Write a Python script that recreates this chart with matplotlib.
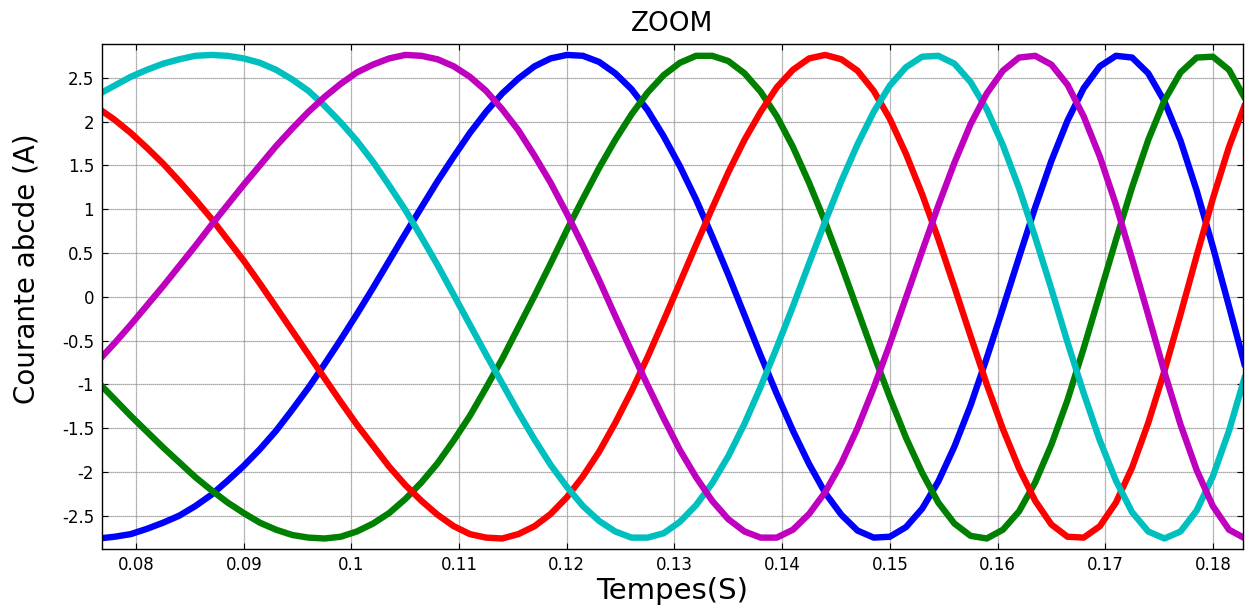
import numpy as np
import matplotlib
matplotlib.use('Agg')
import matplotlib.pyplot as plt

# temps (s), pas d'echantillonnage 1.5 ms
t = np.linspace(0.0765, 0.1830, 72)

# courants des cinq phases (A)
ia = [-2.76, -2.74, -2.71, -2.65, -2.58, -2.50, -2.39, -2.26, -2.10, -1.93, -1.74, -1.53, -1.29, -1.04, -0.77, -0.49, -0.20, 0.10,
      0.41, 0.72, 1.02, 1.32, 1.60, 1.87, 2.11, 2.32, 2.49, 2.63, 2.72, 2.76, 2.75, 2.68, 2.55, 2.37, 2.13, 1.83,
      1.49, 1.11, 0.69, 0.25, -0.21, -0.67, -1.11, -1.53, -1.91, -2.24, -2.49, -2.67, -2.75, -2.74, -2.63, -2.42, -2.11, -1.71,
      -1.24, -0.70, -0.13, 0.45, 1.02, 1.55, 2.01, 2.38, 2.63, 2.75, 2.73, 2.55, 2.23, 1.78, 1.21, 0.57, -0.11, -0.80]
ib = [-0.98, -1.17, -1.36, -1.54, -1.72, -1.89, -2.06, -2.21, -2.35, -2.47, -2.58, -2.66, -2.72, -2.75, -2.76, -2.74, -2.68, -2.59,
      -2.47, -2.31, -2.12, -1.90, -1.64, -1.36, -1.04, -0.71, -0.35, 0.01, 0.38, 0.76, 1.12, 1.47, 1.79, 2.08, 2.33, 2.53,
      2.67, 2.75, 2.75, 2.69, 2.55, 2.34, 2.06, 1.71, 1.30, 0.85, 0.36, -0.15, -0.66, -1.15, -1.61, -2.01, -2.35, -2.59,
      -2.73, -2.76, -2.66, -2.45, -2.12, -1.69, -1.18, -0.59, 0.03, 0.65, 1.25, 1.79, 2.24, 2.56, 2.73, 2.74, 2.59, 2.26]
ic = [2.15, 2.02, 1.87, 1.70, 1.52, 1.32, 1.11, 0.89, 0.65, 0.41, 0.15, -0.12, -0.39, -0.66, -0.93, -1.20, -1.46, -1.70,
      -1.94, -2.15, -2.33, -2.49, -2.62, -2.71, -2.75, -2.76, -2.71, -2.62, -2.48, -2.29, -2.05, -1.77, -1.44, -1.08, -0.69, -0.27,
      0.16, 0.59, 1.01, 1.42, 1.79, 2.11, 2.39, 2.59, 2.72, 2.76, 2.71, 2.58, 2.35, 2.03, 1.63, 1.17, 0.66, 0.11,
      -0.45, -1.00, -1.51, -1.96, -2.33, -2.60, -2.74, -2.75, -2.62, -2.35, -1.95, -1.44, -0.85, -0.20, 0.47, 1.12, 1.71, 2.20]
id_ = [2.31, 2.41, 2.51, 2.59, 2.66, 2.71, 2.75, 2.76, 2.75, 2.72, 2.67, 2.59, 2.48, 2.35, 2.18, 1.99, 1.78, 1.54,
       1.27, 0.99, 0.68, 0.36, 0.02, -0.32, -0.66, -0.99, -1.32, -1.63, -1.92, -2.17, -2.39, -2.56, -2.68, -2.75, -2.75, -2.70,
       -2.57, -2.38, -2.13, -1.82, -1.45, -1.03, -0.58, -0.11, 0.38, 0.86, 1.32, 1.74, 2.11, 2.41, 2.62, 2.74, 2.75, 2.66,
       2.45, 2.14, 1.73, 1.24, 0.68, 0.09, -0.52, -1.10, -1.64, -2.10, -2.46, -2.68, -2.76, -2.68, -2.44, -2.05, -1.53, -0.90]
ie = [-0.73, -0.53, -0.32, -0.10, 0.12, 0.35, 0.58, 0.82, 1.05, 1.28, 1.50, 1.72, 1.92, 2.11, 2.28, 2.43, 2.56, 2.65,
      2.72, 2.76, 2.75, 2.71, 2.63, 2.51, 2.35, 2.14, 1.90, 1.61, 1.30, 0.95, 0.58, 0.19, -0.22, -0.62, -1.01, -1.39,
      -1.75, -2.06, -2.33, -2.54, -2.68, -2.75, -2.75, -2.66, -2.48, -2.23, -1.90, -1.50, -1.04, -0.54, -0.01, 0.52,
      1.04, 1.53, 1.97, 2.32, 2.58, 2.73, 2.75, 2.65, 2.42, 2.06, 1.60, 1.05, 0.43, -0.21, -0.86, -1.46, -1.98, -2.39, -2.66, -2.76]

couleurs = ['#0000ff', '#008000', '#ff0000', '#00bfbf', '#bf00bf']

xticks = [0.08, 0.09, 0.10, 0.11, 0.12, 0.13, 0.14, 0.15, 0.16, 0.17, 0.18]
xlabels = ['0.08', '0.09', '0.1', '0.11', '0.12', '0.13', '0.14', '0.15', '0.16', '0.17', '0.18']
yticks = [-2.5, -2, -1.5, -1, -0.5, 0, 0.5, 1, 1.5, 2, 2.5]
ylabels = ['-2.5', '-2', '-1.5', '-1', '-0.5', '0', '0.5', '1', '1.5', '2', '2.5']

plt.rcParams['axes.unicode_minus'] = False
plt.rcParams['font.family'] = 'DejaVu Sans'

fig = plt.figure(figsize=(12.49, 6.10), dpi=100)
ax = fig.add_axes([0.0814, 0.1, 0.9138, 0.8279])

for i, y in enumerate([ia, ib, ic, id_, ie]):
    ax.plot(t, y, color=couleurs[i], lw=4.6, solid_capstyle='butt')

ax.set_xlim(0.0768, 0.1828)
ax.set_ylim(-2.88, 2.885)
ax.set_xticks(xticks)
ax.set_xticklabels(xlabels)
ax.set_yticks(yticks)
ax.set_yticklabels(ylabels)
ax.tick_params(direction='in', top=True, right=True, length=4, width=0.8, labelsize=12)
ax.tick_params(axis='x', pad=5)
ax.tick_params(axis='y', pad=5.5)
ax.grid(True, color='0.55', linestyle=(0, (1, 0.6)), linewidth=0.9)
ax.set_axisbelow(True)
for s in ax.spines.values():
    s.set_linewidth(1.0)

ax.set_title('ZOOM', fontsize=19, pad=9)
ax.set_xlabel('Tempes(S)', fontsize=21)
ax.xaxis.set_label_coords(0.5, -0.055)
ax.set_ylabel('Courante abcde (A)', fontsize=20)
ax.yaxis.set_label_coords(-0.054, 0.556)

fig.savefig('out.png')
